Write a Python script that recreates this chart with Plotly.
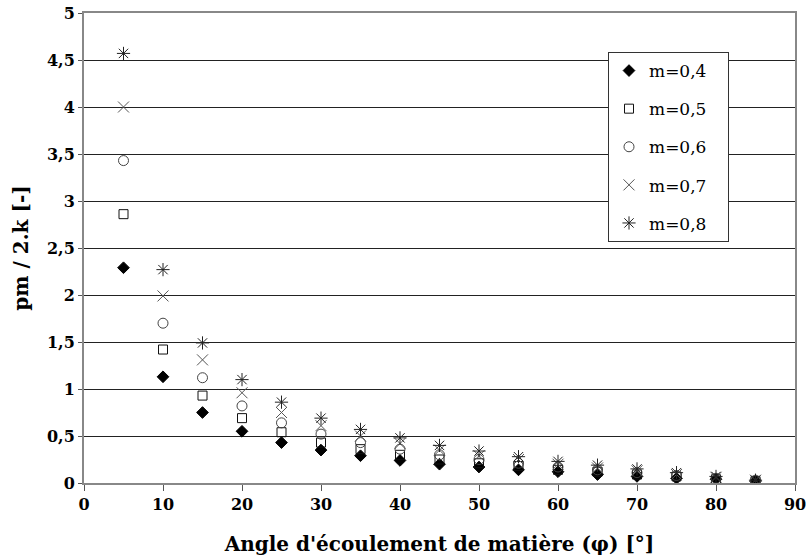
import plotly.graph_objects as go

angles = [5, 10, 15, 20, 25, 30, 35, 40, 45, 50, 55, 60, 65, 70, 75, 80, 85]
m04 = [2.29, 1.13, 0.75, 0.55, 0.43, 0.35, 0.29, 0.24, 0.20, 0.17, 0.14, 0.12, 0.09, 0.07, 0.05, 0.04, 0.02]
m05 = [2.86, 1.42, 0.93, 0.69, 0.54, 0.43, 0.36, 0.30, 0.25, 0.21, 0.18, 0.14, 0.12, 0.09, 0.07, 0.04, 0.02]
m06 = [3.43, 1.70, 1.12, 0.82, 0.64, 0.52, 0.43, 0.36, 0.30, 0.25, 0.21, 0.17, 0.14, 0.11, 0.08, 0.05, 0.03]
m07 = [4.00, 1.99, 1.31, 0.96, 0.75, 0.61, 0.50, 0.42, 0.35, 0.29, 0.25, 0.20, 0.16, 0.13, 0.09, 0.06, 0.03]
m08 = [4.57, 2.27, 1.49, 1.10, 0.86, 0.69, 0.57, 0.48, 0.40, 0.34, 0.28, 0.23, 0.19, 0.15, 0.11, 0.07, 0.03]
names = ["m=0,4", "m=0,5", "m=0,6", "m=0,7", "m=0,8"]
series = [m04, m05, m06, m07, m08]
symbols = ["diamond", "square-open", "circle-open", "x-thin-open", "asterisk-open"]
colors = ["#000000", "#111111", "#444444", "#555555", "#222222"]
sizes = [9, 9, 10, 11, 11]

fig = go.Figure()
for i, (n, s) in enumerate(zip(names, series)):
    fig.add_trace(go.Scatter(
        x=angles, y=s, mode="markers", name=n + "\u00a0\u00a0\u00a0", legendgroup=n,
        marker=dict(symbol=symbols[i], size=sizes[i], color=colors[i],
                    line=dict(width=1, color=colors[i])),
    ))

serif = "DejaVu Serif, Liberation Serif, serif"
fig.update_layout(
    width=806, height=560,
    margin=dict(l=84, r=11, t=13, b=77),
    paper_bgcolor="white", plot_bgcolor="white",
    separators=", ",
    font=dict(family=serif, color="#000000"),
    showlegend=True,
    legend=dict(x=0.737, y=0.917, xanchor="left", yanchor="top",
                bgcolor="white", bordercolor="#333333", borderwidth=1,
                font=dict(family=serif, size=17, color="#000000"),
                tracegroupgap=13, itemwidth=30),
    xaxis=dict(range=[0, 90], tickvals=list(range(0, 91, 10)),
               showgrid=False, zeroline=False, automargin=False,
               ticklabeloverflow="allow",
               showline=True, linecolor="#888888", linewidth=2, mirror=True,
               ticks="outside", ticklen=6, tickcolor="#555555",
               tickfont=dict(family=serif, size=16, color="#000000", weight="bold"),
               title=dict(text="Angle d'écoulement de matière (φ) [°]",
                          font=dict(family=serif, size=20, color="#000000", weight="bold"),
                          standoff=24)),
    yaxis=dict(range=[0, 5], tickvals=[0, 0.5, 1, 1.5, 2, 2.5, 3, 3.5, 4, 4.5, 5],
               ticktext=["0", "0,5", "1", "1,5", "2", "2,5", "3", "3,5", "4", "4,5", "5"],
               showgrid=True, gridcolor="#222222", gridwidth=1, zeroline=False, automargin=False,
               ticklabeloverflow="allow",
               showline=True, linecolor="#888888", linewidth=2, mirror=True,
               ticks="outside", ticklen=4, tickcolor="#555555",
               tickfont=dict(family=serif, size=16, color="#000000", weight="bold"),
               title=dict(text="pm / 2.k [-]",
                          font=dict(family=serif, size=20, color="#000000", weight="bold"),
                          standoff=13)),
)

fig.write_html("out.html", config={"displayModeBar": False},
               post_script="document.body.style.margin='0';document.body.style.padding='0';")
